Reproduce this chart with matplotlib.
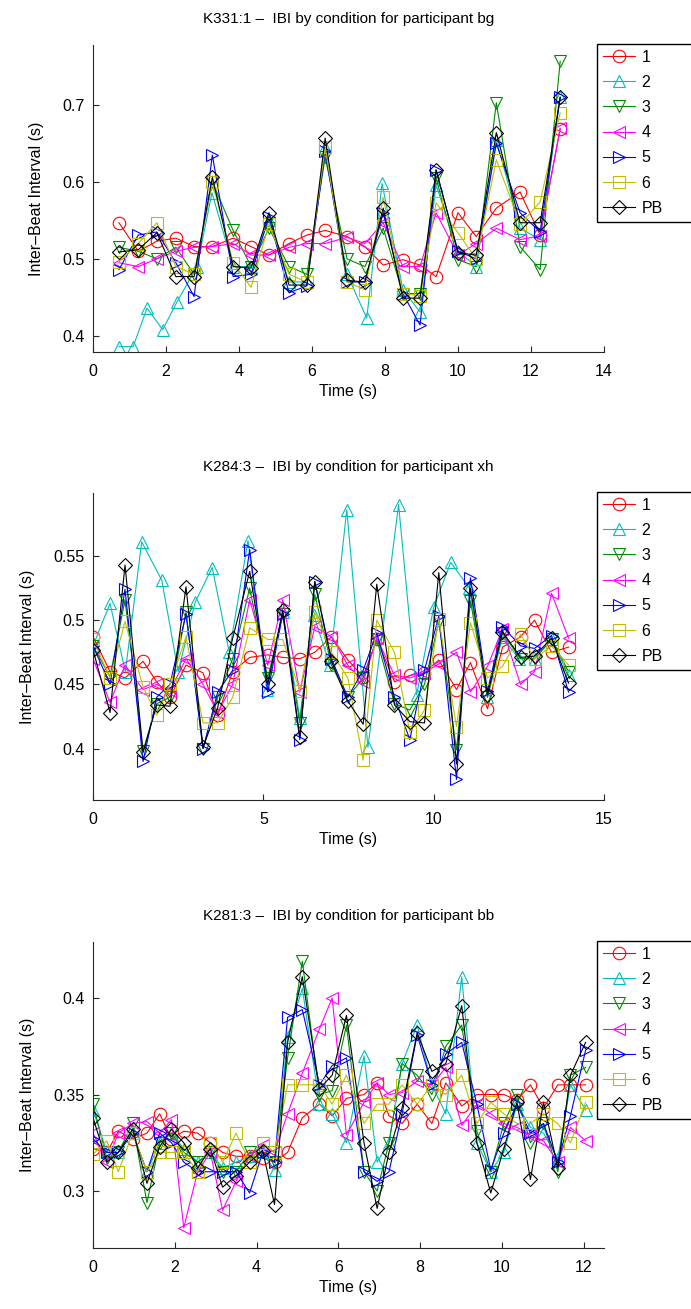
import matplotlib
matplotlib.use("Agg")
import matplotlib.pyplot as plt
import numpy as np

plt.rcParams['font.family'] = ['Liberation Sans', 'DejaVu Sans']
plt.rcParams['font.size'] = 11

labels = ['1', '2', '3', '4', '5', '6', 'PB']
colors = [(1, 0, 0), (0, 0.75, 0.75), (0, 0.55, 0), (1, 0, 1),
          (0, 0, 1), (0.75, 0.75, 0), (0, 0, 0)]
markers = ['o', '^', 'v', '<', '>', 's', 'D']

# ---- K331:1, participant bg
t_bg = [0.71, 1.24, 1.75, 2.27, 2.77, 3.27, 3.84, 4.33, 4.82, 5.37, 5.86, 6.36,
        6.96, 7.45, 7.95, 8.49, 8.96, 9.40, 10.0, 10.5, 11.05, 11.70, 12.25, 12.80]
t2_bg = [0.71, 1.10, 1.48, 1.91, 2.30, 2.85, 3.26, 3.84, 4.33, 4.82, 5.37, 5.86, 6.36,
         6.96, 7.50, 7.92, 8.49, 8.96, 9.40, 10.0, 10.5, 11.05, 11.70, 12.25, 12.80]
c1_bg = [0.547, 0.510, 0.523, 0.527, 0.516, 0.516, 0.527, 0.516, 0.505, 0.520, 0.531, 0.537,
         0.529, 0.516, 0.492, 0.499, 0.492, 0.477, 0.560, 0.529, 0.566, 0.587, 0.531, 0.669]
c2_bg = [0.386, 0.386, 0.436, 0.408, 0.444, 0.490, 0.586, 0.490, 0.490, 0.550, 0.470, 0.470, 0.645,
         0.480, 0.423, 0.598, 0.460, 0.431, 0.596, 0.510, 0.490, 0.655, 0.540, 0.525, 0.710]
c3_bg = [0.515, 0.510, 0.500, 0.515, 0.480, 0.600, 0.537, 0.490, 0.540, 0.490, 0.480, 0.632,
         0.500, 0.490, 0.540, 0.455, 0.455, 0.605, 0.499, 0.490, 0.703, 0.516, 0.486, 0.757]
c4_bg = [0.495, 0.490, 0.500, 0.510, 0.515, 0.516, 0.520, 0.505, 0.505, 0.515, 0.520, 0.520,
         0.528, 0.520, 0.547, 0.490, 0.490, 0.560, 0.505, 0.520, 0.540, 0.525, 0.530, 0.670]
c5_bg = [0.486, 0.531, 0.535, 0.495, 0.451, 0.635, 0.477, 0.480, 0.555, 0.456, 0.465, 0.640,
         0.470, 0.470, 0.560, 0.455, 0.414, 0.615, 0.510, 0.500, 0.650, 0.560, 0.535, 0.710]
c6_bg = [0.496, 0.520, 0.547, 0.490, 0.480, 0.600, 0.495, 0.463, 0.545, 0.480, 0.470, 0.645,
         0.470, 0.460, 0.580, 0.455, 0.452, 0.573, 0.534, 0.500, 0.629, 0.545, 0.574, 0.690]
pb_bg = [0.509, 0.512, 0.534, 0.477, 0.477, 0.606, 0.490, 0.488, 0.560, 0.466, 0.466, 0.657,
         0.472, 0.470, 0.566, 0.449, 0.449, 0.616, 0.508, 0.505, 0.664, 0.547, 0.547, 0.710]

# ---- K284:3, participant xh
t_xh = [0, 0.50, 0.94, 1.47, 1.87, 2.26, 2.73, 3.23, 3.66, 4.10, 4.60, 5.13, 5.57, 6.07, 6.51,
        7.00, 7.48, 7.93, 8.33, 8.85, 9.30, 9.73, 10.15, 10.67, 11.08, 11.58, 12.02, 12.55,
        12.96, 13.46, 13.96]
t2_xh = [0, 0.50, 0.95, 1.43, 2.02, 2.50, 3.00, 3.50, 4.00, 4.55, 5.10, 5.57, 6.07, 6.48,
         6.95, 7.45, 8.07, 8.97, 9.50, 10.0, 10.5, 11.05, 11.58, 12.02, 12.50, 12.96, 13.46, 13.96]
c1_xh = [0.487, 0.460, 0.455, 0.468, 0.452, 0.440, 0.465, 0.459, 0.426, 0.460, 0.471, 0.473,
         0.471, 0.470, 0.475, 0.487, 0.469, 0.456, 0.485, 0.452, 0.457, 0.459, 0.469, 0.446,
         0.467, 0.431, 0.479, 0.487, 0.500, 0.475, 0.479]
c2_xh = [0.480, 0.513, 0.460, 0.561, 0.531, 0.460, 0.514, 0.541, 0.475, 0.562, 0.446, 0.506,
         0.424, 0.504, 0.465, 0.586, 0.401, 0.590, 0.442, 0.510, 0.545, 0.525, 0.440, 0.487,
         0.470, 0.470, 0.485, 0.457]
c3_xh = [0.480, 0.456, 0.516, 0.398, 0.435, 0.440, 0.506, 0.400, 0.440, 0.470, 0.525, 0.455,
         0.505, 0.420, 0.520, 0.465, 0.440, 0.455, 0.485, 0.435, 0.430, 0.450, 0.499, 0.399,
         0.515, 0.440, 0.490, 0.470, 0.470, 0.485, 0.460]
c4_xh = [0.470, 0.436, 0.465, 0.446, 0.450, 0.445, 0.470, 0.450, 0.428, 0.450, 0.516, 0.465,
         0.516, 0.444, 0.495, 0.487, 0.465, 0.452, 0.486, 0.457, 0.455, 0.459, 0.466, 0.475,
         0.444, 0.464, 0.493, 0.450, 0.460, 0.521, 0.486]
c5_xh = [0.480, 0.450, 0.524, 0.390, 0.440, 0.450, 0.505, 0.400, 0.444, 0.461, 0.555, 0.444,
         0.505, 0.407, 0.530, 0.470, 0.440, 0.461, 0.490, 0.440, 0.407, 0.461, 0.503, 0.376,
         0.533, 0.445, 0.495, 0.480, 0.478, 0.488, 0.444]
c6_xh = [0.485, 0.455, 0.499, 0.448, 0.426, 0.450, 0.487, 0.420, 0.420, 0.440, 0.494, 0.485,
         0.485, 0.445, 0.506, 0.475, 0.455, 0.391, 0.500, 0.475, 0.413, 0.430, 0.501, 0.417,
         0.498, 0.455, 0.464, 0.489, 0.470, 0.480, 0.465]
pb_xh = [0.477, 0.428, 0.543, 0.397, 0.434, 0.433, 0.526, 0.401, 0.432, 0.486, 0.538, 0.450,
         0.508, 0.409, 0.530, 0.468, 0.437, 0.419, 0.528, 0.434, 0.421, 0.420, 0.537, 0.388,
         0.525, 0.442, 0.491, 0.471, 0.472, 0.486, 0.451]

# ---- K281:3, participant bb
t_bb = [0, 0.34, 0.62, 0.97, 1.32, 1.63, 1.92, 2.22, 2.56, 2.87, 3.17, 3.50, 3.83, 4.15,
        4.44, 4.76, 5.12, 5.54, 5.85, 6.20, 6.63, 6.95, 7.24, 7.56, 7.93, 8.29, 8.63, 9.02,
        9.39, 9.73, 10.05, 10.37, 10.70, 11.02, 11.37, 11.68, 12.05]
c1_bb = [0.322, 0.320, 0.331, 0.327, 0.330, 0.340, 0.327, 0.331, 0.330, 0.325, 0.320, 0.318,
         0.318, 0.317, 0.315, 0.320, 0.338, 0.345, 0.339, 0.348, 0.350, 0.356, 0.339, 0.335,
         0.345, 0.335, 0.356, 0.344, 0.350, 0.350, 0.350, 0.347, 0.355, 0.343, 0.355, 0.355, 0.355]
c2_bb = [0.342, 0.320, 0.320, 0.330, 0.310, 0.325, 0.330, 0.322, 0.315, 0.320, 0.312, 0.315,
         0.318, 0.320, 0.311, 0.380, 0.405, 0.345, 0.340, 0.325, 0.370, 0.315, 0.325, 0.366,
         0.386, 0.355, 0.340, 0.411, 0.325, 0.310, 0.320, 0.345, 0.333, 0.330, 0.317, 0.355, 0.342]
c3_bb = [0.345, 0.317, 0.320, 0.335, 0.294, 0.325, 0.330, 0.320, 0.315, 0.320, 0.310, 0.310,
         0.320, 0.320, 0.315, 0.369, 0.419, 0.350, 0.352, 0.386, 0.310, 0.300, 0.325, 0.366,
         0.360, 0.350, 0.375, 0.386, 0.331, 0.310, 0.335, 0.350, 0.325, 0.335, 0.310, 0.360, 0.364]
c4_bb = [0.330, 0.315, 0.330, 0.335, 0.336, 0.330, 0.337, 0.281, 0.310, 0.320, 0.290, 0.305,
         0.318, 0.324, 0.320, 0.340, 0.361, 0.384, 0.400, 0.329, 0.346, 0.356, 0.350, 0.351,
         0.357, 0.355, 0.364, 0.334, 0.345, 0.340, 0.335, 0.333, 0.329, 0.326, 0.315, 0.333, 0.326]
c5_bb = [0.327, 0.320, 0.320, 0.330, 0.310, 0.330, 0.325, 0.315, 0.310, 0.310, 0.310, 0.310,
         0.299, 0.320, 0.315, 0.390, 0.394, 0.355, 0.365, 0.369, 0.310, 0.305, 0.310, 0.340,
         0.381, 0.355, 0.371, 0.377, 0.345, 0.311, 0.330, 0.345, 0.330, 0.335, 0.315, 0.339, 0.373]
c6_bb = [0.319, 0.326, 0.310, 0.330, 0.310, 0.320, 0.320, 0.320, 0.310, 0.325, 0.315, 0.330,
         0.315, 0.325, 0.320, 0.355, 0.355, 0.355, 0.345, 0.360, 0.335, 0.345, 0.345, 0.355,
         0.345, 0.355, 0.350, 0.360, 0.335, 0.346, 0.340, 0.335, 0.335, 0.340, 0.335, 0.325, 0.346]
pb_bb = [0.338, 0.315, 0.320, 0.332, 0.304, 0.323, 0.332, 0.325, 0.312, 0.322, 0.302, 0.308,
         0.315, 0.321, 0.293, 0.377, 0.411, 0.353, 0.360, 0.391, 0.325, 0.291, 0.320, 0.343,
         0.382, 0.362, 0.366, 0.396, 0.325, 0.299, 0.322, 0.346, 0.306, 0.346, 0.312, 0.360, 0.377]

panels = [
    dict(title="K331:1 \u2013  IBI by condition for participant bg",
         times=[t_bg, t2_bg, t_bg, t_bg, t_bg, t_bg, t_bg],
         vals=[c1_bg, c2_bg, c3_bg, c4_bg, c5_bg, c6_bg, pb_bg],
         xlim=(0, 14), xticks=[0, 2, 4, 6, 8, 10, 12, 14],
         ylim=(0.379, 0.778), yticks=[0.4, 0.5, 0.6, 0.7],
         rect=[93, 45, 604, 352]),
    dict(title="K284:3 \u2013  IBI by condition for participant xh",
         times=[t_xh, t2_xh, t_xh, t_xh, t_xh, t_xh, t_xh],
         vals=[c1_xh, c2_xh, c3_xh, c4_xh, c5_xh, c6_xh, pb_xh],
         xlim=(0, 15), xticks=[0, 5, 10, 15],
         ylim=(0.36, 0.599), yticks=[0.4, 0.45, 0.5, 0.55],
         rect=[93, 493, 604, 800]),
    dict(title="K281:3 \u2013  IBI by condition for participant bb",
         times=[t_bb] * 7,
         vals=[c1_bb, c2_bb, c3_bb, c4_bb, c5_bb, c6_bb, pb_bb],
         xlim=(0, 12.5), xticks=[0, 2, 4, 6, 8, 10, 12],
         ylim=(0.2705, 0.429), yticks=[0.3, 0.35, 0.4],
         rect=[93, 942, 604, 1248]),
]

W, H = 691, 1309
fig = plt.figure(figsize=(W / 100, H / 100), dpi=100)

for p in panels:
    l, t, r, b = p['rect']
    ax = fig.add_axes([l / W, 1 - b / H, (r - l) / W, (b - t) / H])
    for i in range(7):
        ax.plot(p['times'][i], p['vals'][i], color=colors[i], marker=markers[i],
                markersize=9 if markers[i] != 'D' else 7.5, markerfacecolor='none',
                markeredgewidth=0.8, linewidth=0.8, label=labels[i])
    ax.set_xlim(*p['xlim'])
    ax.set_ylim(*p['ylim'])
    ax.set_xticks(p['xticks'])
    ax.set_yticks(p['yticks'])
    ax.set_yticklabels([('%g' % v) for v in p['yticks']])
    ax.spines['top'].set_visible(False)
    ax.spines['right'].set_visible(False)
    for s in ['left', 'bottom']:
        ax.spines[s].set_color('#262626')
        ax.spines[s].set_linewidth(0.8)
    ax.tick_params(direction='in', length=4, width=0.8, color='#262626', labelsize=11.5)
    ax.tick_params(axis='x', pad=9)
    ax.tick_params(axis='y', pad=6)
    ax.set_xlabel('Time (s)', fontsize=11.5, labelpad=3)
    ax.set_ylabel('Inter\u2013Beat Interval (s)', fontsize=11.5, labelpad=13)
    ax.set_title(p['title'], fontsize=11, pad=16)
    # legend box runs off the right edge like the original
    top = 1 - (t - 1) / H
    leg = ax.legend(loc='upper left', bbox_to_anchor=(597 / W, top - 0.2, 110 / W, 0.2),
                    bbox_transform=fig.transFigure, mode='expand', borderaxespad=0,
                    fancybox=False, framealpha=1, edgecolor='black', fontsize=11.5,
                    handlelength=2.0, labelspacing=0.64, borderpad=0.35, handletextpad=0.45)
    leg.get_frame().set_linewidth(1.0)

fig.savefig('out.png', dpi=100)
